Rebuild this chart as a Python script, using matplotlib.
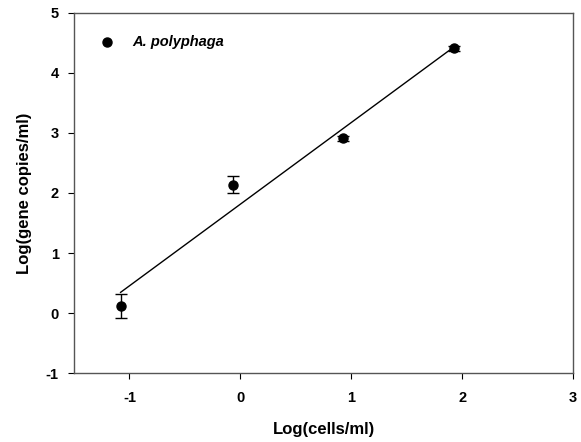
import matplotlib
matplotlib.use("Agg")
import matplotlib.pyplot as plt
import numpy as np

plt.rcParams["font.family"] = ["Liberation Sans", "DejaVu Sans"]
plt.rcParams["font.weight"] = "bold"
plt.rcParams["axes.unicode_minus"] = False

# data
log_cells = [-1.08, -0.07, 0.93, 1.93]
log_copies = [0.12, 2.14, 2.91, 4.41]
copies_err = [0.2, 0.14, 0.04, 0.04]
series_label = "A. polyphaga"

x_ticks = [-1, 0, 1, 2, 3]
y_ticks = [-1, 0, 1, 2, 3, 4, 5]

fig = plt.figure(figsize=(5.81, 4.42), dpi=100)
ax = fig.add_axes([0.1274, 0.1561, 0.8588, 0.8145])

ax.errorbar(log_cells, log_copies, yerr=copies_err, fmt="o", color="black",
            markersize=6.5, capsize=4.5, elinewidth=1, capthick=1, zorder=3)

slope, intercept = np.polyfit(log_cells, log_copies, 1)
fit_x = np.array([log_cells[0], log_cells[-1]])
ax.plot(fit_x, slope * fit_x + intercept, color="black", linewidth=1)

# legend entry
ax.plot([-1.2], [4.52], "o", color="black", markersize=6.5)
ax.text(-0.97, 4.52, series_label, fontsize=10.5, fontstyle="italic",
        fontweight="bold", va="center", ha="left")

ax.set_xlim(-1.5, 3)
ax.set_ylim(-1, 5)
ax.set_xticks(x_ticks)
ax.set_yticks(y_ticks)
ax.tick_params(direction="out", length=4, labelsize=10.5, top=False, right=False)
ax.tick_params(axis="x", pad=9)
ax.tick_params(axis="y", pad=7)
for spine in ax.spines.values():
    spine.set_linewidth(1)
    spine.set_color("#555555")
ax.set_xlabel("Log(cells/ml)", fontsize=12, fontweight="bold", labelpad=12)
ax.set_ylabel("Log(gene copies/ml)", fontsize=12, fontweight="bold", labelpad=10)

fig.savefig("out.png", dpi=100)
